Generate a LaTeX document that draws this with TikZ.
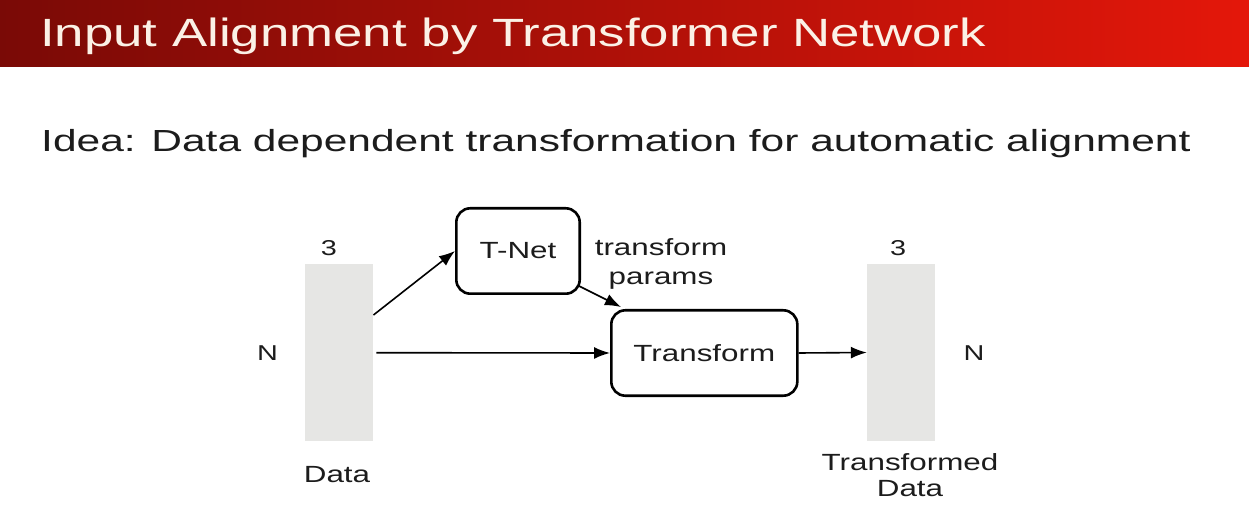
\documentclass[tikz,border=0pt]{standalone}
\usepackage{fontspec}
\usepackage{graphicx}
\setmainfont{Liberation Sans}
\usetikzlibrary{arrows.meta}
\definecolor{hdrL}{HTML}{7A0A06}
\definecolor{hdrR}{HTML}{E4170A}
\definecolor{titlec}{HTML}{FBF1E6}
\definecolor{txt}{HTML}{1C1C1C}
\definecolor{barc}{HTML}{E6E6E4}
\newcommand{\sx}[1]{\scalebox{1.34}[1]{#1}}
\tikzset{
  boxstyle/.style={draw=black, line width=2.6pt, rounded corners=14pt, fill=white,
    text=txt, font=\fontsize{23.4}{26}\selectfont, inner sep=0pt},
  barstyle/.style={fill=barc, draw=none, inner sep=0pt},
  lbl/.style={text=txt, font=\fontsize{23.4}{26}\selectfont, inner sep=0pt, anchor=base},
  dimlbl/.style={text=txt, font=\fontsize{21.5}{24}\selectfont, inner sep=0pt, anchor=base},
  arr/.style={line width=1.6pt, draw=black, -{Latex[length=16pt,width=12pt]}}
}
\begin{document}
\begin{tikzpicture}[x=1pt,y=-1pt]
\useasboundingbox (0,0) rectangle (1249,518);
\fill[white] (0,0) rectangle (1249,518);
\shade[left color=hdrL, right color=hdrR] (0,0) rectangle (1249,67);
\node[anchor=base west, inner sep=0pt, text=titlec, font=\fontsize{39.4}{42}\selectfont] (title) at (40,46.7) {\sx{Input Alignment by Transformer Network}};
\node[anchor=base west, inner sep=0pt, text=txt, font=\fontsize{30.5}{34}\selectfont] (idea) at (41,151.7) {\scalebox{1.393}[1]{Idea: Data dependent transformation for automatic alignment}};

% bars
\node[barstyle, minimum width=68.5pt, minimum height=177.5pt] (data) at (339,352.7) {};
\node[barstyle, minimum width=68pt, minimum height=177pt] (tdata) at (901,352.5) {};

% boxes
\node[boxstyle, minimum width=123.4pt, minimum height=85.4pt] (tnet) at (518,251) {\sx{T-Net}};
\node[boxstyle, minimum width=186pt, minimum height=85.4pt] (transform) at (704.3,353) {\sx{Transform}};

% labels
\node[dimlbl] (d3) at (328.8,255.7) {\sx{3}};
\node[dimlbl] (dN) at (267.4,360.5) {\sx{N}};
\node[lbl] (dlab) at (337,482.7) {\sx{Data}};
\node[dimlbl] (t3) at (898,256) {\sx{3}};
\node[dimlbl] (tN) at (974,360) {\sx{N}};
\node[lbl] (tlab1) at (910,470) {\sx{Transformed}};
\node[lbl] (tlab2) at (910,496) {\sx{Data}};
\node[lbl] (p1) at (661,256) {\sx{transform}};
\node[lbl] (p2) at (661,285) {\sx{params}};

% connectors
\draw[arr] ([yshift=37.7pt]data.east) -- (tnet.west);
\draw[arr] ([shift={(-2pt,9pt)}]tnet.south east) -- ([shift={(11pt,2pt)}]transform.north west);
\draw[arr, shorten <=3pt] (data.east) -- (transform.west);
\draw[arr] (transform.east) -- (tdata.west);
\end{tikzpicture}
\end{document}
